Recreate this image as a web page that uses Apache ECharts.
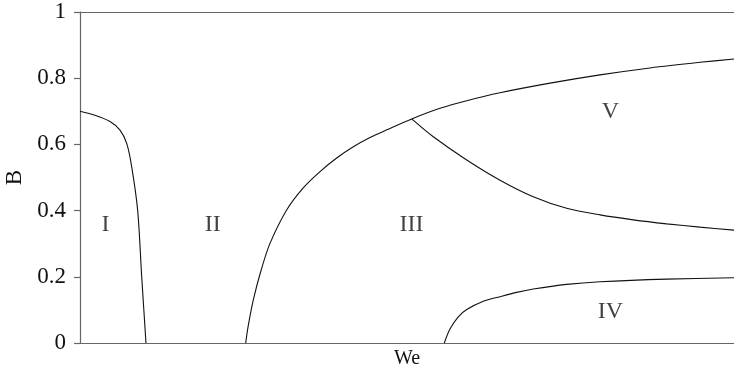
<!DOCTYPE html>
<html>
<head>
<meta charset="utf-8">
<style>
  html, body { margin: 0; padding: 0; background: #fff; }
  #chart { width: 734px; height: 373px; }
</style>
<script src="https://cdn.jsdelivr.net/npm/echarts@6/dist/echarts.min.js"></script>
</head>
<body>
<div id="chart"></div>
<script>
// Regime boundaries in the (We, B) plane; We is in relative units 0..100.
const boundaryI = [
  [0, 0.700], [2.29, 0.688], [4.59, 0.669], [6.12, 0.643], [7.14, 0.603],
  [7.90, 0.533], [8.82, 0.400], [9.43, 0.202], [10.09, 0]
];
const boundaryIII = [
  [25.34, 0], [25.69, 0.048], [26.50, 0.130], [27.68, 0.219], [29.05, 0.301],
  [31.60, 0.402], [34.10, 0.468], [36.70, 0.518], [39.25, 0.559], [41.79, 0.593],
  [44.34, 0.621], [46.90, 0.644], [50.72, 0.677], [55.05, 0.709], [59.13, 0.732],
  [64.22, 0.756], [71.87, 0.785], [79.51, 0.810], [87.16, 0.831], [94.80, 0.848], [100, 0.858]
];
const boundaryV = [
  [50.72, 0.677], [54.02, 0.623], [59.13, 0.553], [64.22, 0.492], [69.31, 0.442],
  [74.42, 0.407], [79.51, 0.387], [84.60, 0.372], [89.71, 0.360], [94.80, 0.350], [100, 0.341]
];
const boundaryIV = [
  [55.70, 0], [56.57, 0.042], [57.84, 0.079], [59.13, 0.101],
  [61.67, 0.126], [64.22, 0.140], [66.77, 0.153], [69.31, 0.163], [74.42, 0.177],
  [79.51, 0.185], [89.71, 0.193], [100, 0.197]
];
const regionNames = ['I', 'II', 'III', 'IV', 'V'];
const regionPos = [[3.9, 0.356], [20.3, 0.356], [50.7, 0.356], [81.1, 0.095], [81.1, 0.699]];
const yTicks = [0, 0.2, 0.4, 0.6, 0.8, 1];

const serif = '"Liberation Serif", "DejaVu Serif", serif';
const axisGray = '#666';

function curve(data) {
  return {
    type: 'line', data: data, xAxisIndex: 0, yAxisIndex: 0,
    showSymbol: false, smooth: 0.3,
    lineStyle: { color: '#111', width: 1.1 }, silent: true, animation: false
  };
}

const chart = echarts.init(document.getElementById('chart'), null, { renderer: 'canvas' });
chart.setOption({
  animation: false,
  grid: { left: 80, right: 0, top: 12, bottom: 30, containLabel: false, outerBoundsMode: 'none' },
  xAxis: [
    {
      type: 'value', min: 0, max: 100, position: 'bottom',
      name: 'We', nameLocation: 'middle', nameGap: 6,
      nameTextStyle: { fontFamily: serif, fontSize: 20, color: '#111' },
      axisLine: { show: true, lineStyle: { color: axisGray, width: 1.2 } },
      axisTick: { show: false }, axisLabel: { show: false }, splitLine: { show: false }
    },
    {
      type: 'value', min: 0, max: 100, position: 'top',
      axisLine: { show: true, lineStyle: { color: axisGray, width: 1.2 } },
      axisTick: { show: false }, axisLabel: { show: false }, splitLine: { show: false }
    }
  ],
  yAxis: {
    type: 'value', min: 0, max: 1, interval: 0.2,
    name: 'B', nameLocation: 'middle', nameGap: 52, nameRotate: 90,
    nameTextStyle: { fontFamily: serif, fontSize: 23, color: '#111' },
    axisLine: { show: true, lineStyle: { color: axisGray, width: 1.2 } },
    axisTick: { show: true, inside: false, length: 6, lineStyle: { color: axisGray, width: 1.2 } },
    axisLabel: {
      fontFamily: serif, fontSize: 23, color: '#111', margin: 14,
      formatter: v => String(yTicks.find(t => Math.abs(t - v) < 1e-9) ?? v)
    },
    splitLine: { show: false }
  },
  series: [
    curve(boundaryI),
    curve(boundaryIII),
    curve(boundaryV),
    curve(boundaryIV),
    {
      type: 'scatter', symbolSize: 0, silent: true, animation: false,
      data: regionNames.map((n, i) => ({ name: n, value: regionPos[i] })),
      label: {
        show: true, position: 'inside', formatter: p => p.name,
        fontFamily: serif, fontSize: 24, color: '#111'
      }
    }
  ]
});
</script>
</body>
</html>
